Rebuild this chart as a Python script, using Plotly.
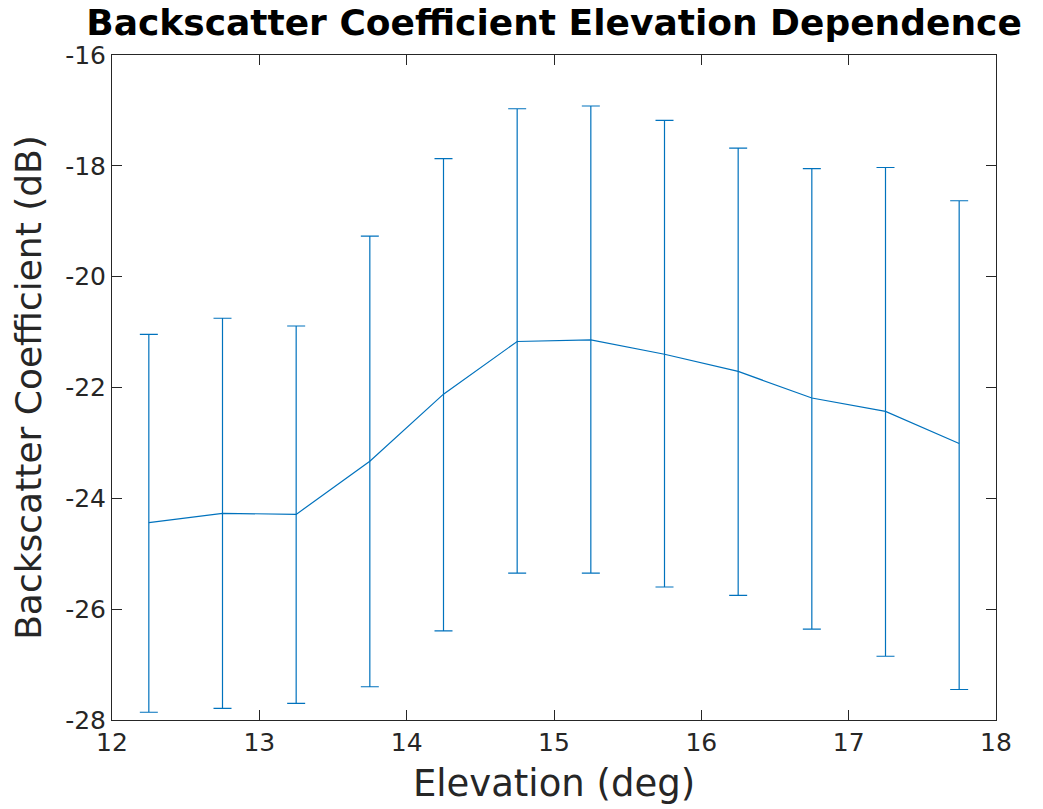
import plotly.graph_objects as go

# Elevation bins (deg) and backscatter statistics (dB)
elevation = [12.25, 12.75, 13.25, 13.75, 14.25, 14.75, 15.25, 15.75, 16.25, 16.75, 17.25, 17.75]
mean_db = [-24.44, -24.27, -24.29, -23.33, -22.12, -21.17, -21.14, -21.40, -21.71, -22.19, -22.43, -23.01]
upper_db = [-21.04, -20.75, -20.89, -19.27, -17.87, -16.97, -16.92, -17.18, -17.68, -18.05, -18.03, -18.63]
lower_db = [-27.86, -27.79, -27.70, -27.40, -26.39, -25.35, -25.35, -25.60, -25.75, -26.36, -26.85, -27.45]

x_ticks = [12, 13, 14, 15, 16, 17, 18]
y_ticks = [-28, -26, -24, -22, -20, -18, -16]

err_plus = [u - m for u, m in zip(upper_db, mean_db)]
err_minus = [m - l for m, l in zip(mean_db, lower_db)]

blue = "#0072BD"
axis_color = "#262626"
font_family = "DejaVu Sans"

fig = go.Figure()
fig.add_trace(go.Scatter(
    x=elevation,
    y=mean_db,
    mode="lines",
    line=dict(color=blue, width=1.2),
    error_y=dict(
        type="data",
        symmetric=False,
        array=err_plus,
        arrayminus=err_minus,
        color=blue,
        thickness=1.2,
        width=9,
    ),
    showlegend=False,
))

axis_common = dict(
    showline=True,
    linecolor=axis_color,
    linewidth=1,
    mirror="ticks",
    ticks="inside",
    ticklen=10,
    tickwidth=1,
    tickcolor=axis_color,
    showgrid=False,
    zeroline=False,
    tickfont=dict(family=font_family, size=25, color=axis_color),
)

fig.update_layout(
    width=1043,
    height=809,
    paper_bgcolor="white",
    plot_bgcolor="white",
    margin=dict(l=112, r=47, t=55, b=87),
    title=dict(
        text="<b>Backscatter Coefficient Elevation Dependence</b>",
        font=dict(family=font_family, size=36, color="black"),
        x=0.5,
        xanchor="center",
        xref="paper",
        y=1 - 22 / 809,
        yanchor="middle",
        yref="container",
    ),
    xaxis=dict(
        range=[12, 18],
        tickvals=x_ticks,
        ticktext=[str(v) for v in x_ticks],
        title=dict(text="Elevation (deg)", font=dict(family=font_family, size=37, color=axis_color), standoff=14),
        **axis_common,
    ),
    yaxis=dict(
        range=[-28, -16],
        tickvals=y_ticks,
        ticktext=[str(v) for v in y_ticks],
        title=dict(text="Backscatter Coefficient (dB)", font=dict(family=font_family, size=36, color=axis_color), standoff=12),
        **axis_common,
    ),
)

fig.write_html("out.html")
